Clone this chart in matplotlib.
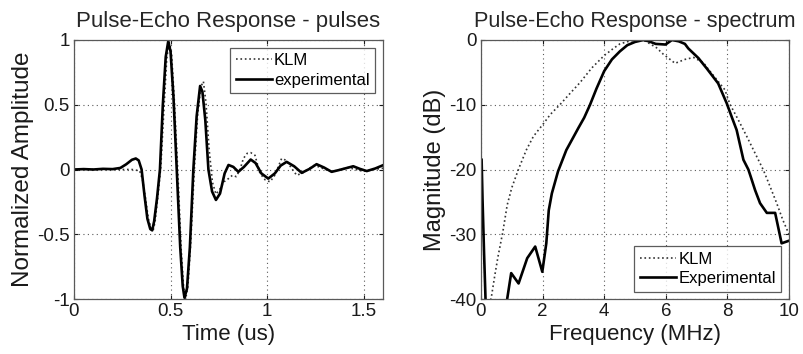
import matplotlib
matplotlib.use('Agg')
import matplotlib.pyplot as plt
from matplotlib.ticker import FormatStrFormatter

plt.rcParams['font.family'] = ['Liberation Sans', 'DejaVu Sans']
plt.rcParams['axes.unicode_minus'] = False

# ---- pulse data (time in us, normalized amplitude) ----
t_exp = [0.00, 0.05, 0.10, 0.15, 0.20, 0.24, 0.27, 0.30, 0.32, 0.335, 0.35, 0.365,
         0.38, 0.395, 0.405, 0.415, 0.43, 0.445, 0.46, 0.475, 0.488, 0.50, 0.515,
         0.532, 0.55, 0.563, 0.572, 0.585, 0.60, 0.618, 0.635, 0.653, 0.665, 0.68,
         0.696, 0.715, 0.735, 0.756, 0.78, 0.80, 0.825, 0.851, 0.88, 0.915, 0.94,
         0.97, 1.006, 1.04, 1.07, 1.101, 1.14, 1.179, 1.22, 1.256, 1.295, 1.334,
         1.37, 1.403, 1.446, 1.48, 1.516, 1.56, 1.60]
a_exp = [0.0, 0.003, 0.0, 0.005, 0.003, 0.012, 0.04, 0.075, 0.085, 0.07, 0.0, -0.20,
         -0.38, -0.46, -0.47, -0.40, -0.22, 0.0, 0.50, 0.87, 0.99, 0.91, 0.56,
         0.0, -0.60, -0.90, -0.99, -0.92, -0.60, 0.0, 0.41, 0.645, 0.60, 0.38,
         0.0, -0.17, -0.235, -0.186, -0.03, 0.035, 0.02, -0.018, 0.02, 0.077, 0.05,
         -0.03, -0.07, -0.03, 0.03, 0.059, 0.025, -0.026, 0.005, 0.041, 0.015, -0.018,
         -0.005, 0.008, 0.025, 0.005, -0.012, 0.008, 0.033]

t_klm = [0.00, 0.10, 0.20, 0.30, 0.34, 0.355, 0.37, 0.385, 0.40, 0.41, 0.42, 0.435,
         0.45, 0.465, 0.48, 0.492, 0.505, 0.52, 0.537, 0.555, 0.568, 0.578, 0.59,
         0.605, 0.623, 0.64, 0.657, 0.67, 0.683, 0.70, 0.717, 0.735, 0.752, 0.777,
         0.80, 0.82, 0.84, 0.86, 0.877, 0.897, 0.915, 0.937, 0.963, 0.99, 1.015,
         1.04, 1.075, 1.10, 1.127, 1.153, 1.18, 1.21, 1.24, 1.27, 1.30, 1.34, 1.38,
         1.42, 1.46, 1.50, 1.55, 1.60]
a_klm = [0.0, 0.0, 0.0, 0.0, -0.01, -0.08, -0.22, -0.38, -0.46, -0.47, -0.40, -0.20,
         0.03, 0.45, 0.85, 0.99, 0.90, 0.52, 0.0, -0.62, -0.92, -1.0, -0.90,
         -0.55, 0.0, 0.42, 0.64, 0.68, 0.52, 0.15, -0.10, -0.19, -0.16, -0.095,
         -0.07, -0.045, -0.055, 0.0, 0.085, 0.125, 0.13, 0.11, -0.03, -0.08, -0.095,
         -0.044, 0.085, 0.07, 0.008, -0.044, -0.03, 0.0, 0.03, 0.02, 0.0, -0.015, 0.0,
         0.015, 0.0, -0.015, 0.0, 0.01]

# ---- spectrum data (frequency in MHz, magnitude in dB) ----
f_exp = [0.02, 0.05, 0.10, 0.15, 0.25, 0.50, 0.75, 0.85, 0.98, 1.22, 1.50, 1.76,
         1.99, 2.12, 2.20, 2.30, 2.50, 2.77, 3.00, 3.16, 3.35, 3.54, 3.75, 4.00,
         4.25, 4.51, 4.75, 5.00, 5.27, 5.45, 5.67, 5.99, 6.20, 6.42, 6.62, 6.73,
         7.06, 7.33, 7.70, 7.98, 8.15, 8.30, 8.52, 8.68, 8.75, 8.90, 9.06, 9.28,
         9.55, 9.76, 10.0]
db_exp = [-18.5, -24.7, -33.0, -40.5, -48.0, -50.0, -45.0, -40.0, -36.0, -37.6, -33.7, -31.9,
          -35.8, -31.4, -26.3, -23.7, -20.3, -17.0, -15.0, -13.6, -12.0, -10.0, -7.5, -4.8,
          -3.0, -1.75, -0.8, -0.3, 0.0, -0.2, -0.6, -0.7, 0.0, -0.2, -0.6, -1.3,
          -2.8, -4.4, -6.7, -9.8, -12.0, -13.9, -18.5, -20.0, -21.0, -23.2, -25.2, -26.7,
          -26.7, -31.4, -31.0]

f_klm = [0.25, 0.34, 0.45, 0.55, 0.71, 0.85, 1.00, 1.23, 1.47, 1.70, 1.88, 2.00,
         2.25, 2.56, 2.90, 3.21, 3.60, 4.00, 4.30, 4.51, 4.80, 5.05, 5.27, 5.49,
         5.70, 5.92, 6.14, 6.30, 6.62, 6.90, 7.22, 7.38, 7.60, 7.92, 8.08, 8.35,
         8.63, 8.90, 9.17, 9.40, 9.60, 9.80, 10.0]
db_klm = [-41.5, -39.6, -36.3, -33.5, -29.6, -25.5, -22.8, -19.8, -17.0, -14.9, -13.8, -13.1,
          -11.5, -10.0, -8.2, -6.6, -4.3, -2.4, -1.3, -0.6, -0.2, 0.0, 0.0, -0.6,
          -1.2, -2.2, -3.0, -3.6, -3.0, -2.7, -3.5, -4.5, -5.8, -7.7, -9.9, -12.3,
          -14.9, -17.5, -20.1, -22.8, -25.2, -27.8, -30.0]

fig = plt.figure(figsize=(8.04, 3.54), dpi=100)
W, H = 804, 354


def make_axes(x0, x1, y0, y1):
    return fig.add_axes([x0 / W, 1 - y1 / H, (x1 - x0) / W, (y1 - y0) / H])


def style(ax):
    ax.grid(True, linestyle=(0, (1, 3)), color='0.35', linewidth=0.8)
    ax.tick_params(direction='in', top=True, right=True, length=3,
                   labelsize=13.5, colors='0.1', pad=3)
    for s in ax.spines.values():
        s.set_color('0.35')
        s.set_linewidth(0.9)


def add_legend(ax, loc):
    leg = ax.legend(loc=loc, fontsize=12, frameon=True, fancybox=False,
                    borderaxespad=0.45, handlelength=2.2, handletextpad=0.1,
                    borderpad=0.35, labelspacing=0.25)
    leg.get_frame().set_edgecolor('0.2')
    leg.get_frame().set_linewidth(0.9)


# 左图：脉冲
ax1 = make_axes(74, 383, 40, 299)
ax1.plot(t_klm, a_klm, color='0.2', linestyle=':', linewidth=1.2, label='KLM')
ax1.plot(t_exp, a_exp, color='black', linewidth=1.9, label='experimental')
ax1.set_xlim(0, 1.6)
ax1.set_ylim(-1, 1)
ax1.set_xticks([0, 0.5, 1, 1.5])
ax1.set_yticks([-1, -0.5, 0, 0.5, 1])
ax1.xaxis.set_major_formatter(FormatStrFormatter('%g'))
ax1.yaxis.set_major_formatter(FormatStrFormatter('%g'))
style(ax1)
ax1.set_title('Pulse-Echo Response - pulses', fontsize=16, pad=9, color='0.15')
ax1.set_xlabel('Time (us)', fontsize=16, color='0.1')
ax1.set_ylabel('Normalized Amplitude', fontsize=17.5, color='0.1')
ax1.yaxis.set_label_coords(-0.13, 0.5)
ax1.xaxis.set_label_coords(0.5, -0.095)
ax1.xaxis.label.set_va('top')
add_legend(ax1, 'upper right')

# 右图：频谱
ax2 = make_axes(481, 789, 40, 299)
ax2.plot(f_klm, db_klm, color='0.2', linestyle=':', linewidth=1.2, label='KLM')
ax2.plot(f_exp, db_exp, color='black', linewidth=1.9, label='Experimental')
ax2.set_xlim(0, 10)
ax2.set_ylim(-40, 0)
ax2.set_xticks([0, 2, 4, 6, 8, 10])
ax2.set_yticks([-40, -30, -20, -10, 0])
style(ax2)
ax2.set_title('Pulse-Echo Response - spectrum', fontsize=15.6, pad=9, color='0.15')
ax2.set_xlabel('Frequency (MHz)', fontsize=16, color='0.1')
ax2.set_ylabel('Magnitude (dB)', fontsize=17, color='0.1')
ax2.yaxis.set_label_coords(-0.115, 0.5)
ax2.xaxis.set_label_coords(0.5, -0.095)
ax2.xaxis.label.set_va('top')
add_legend(ax2, 'lower right')

fig.savefig('out.png', dpi=100)
